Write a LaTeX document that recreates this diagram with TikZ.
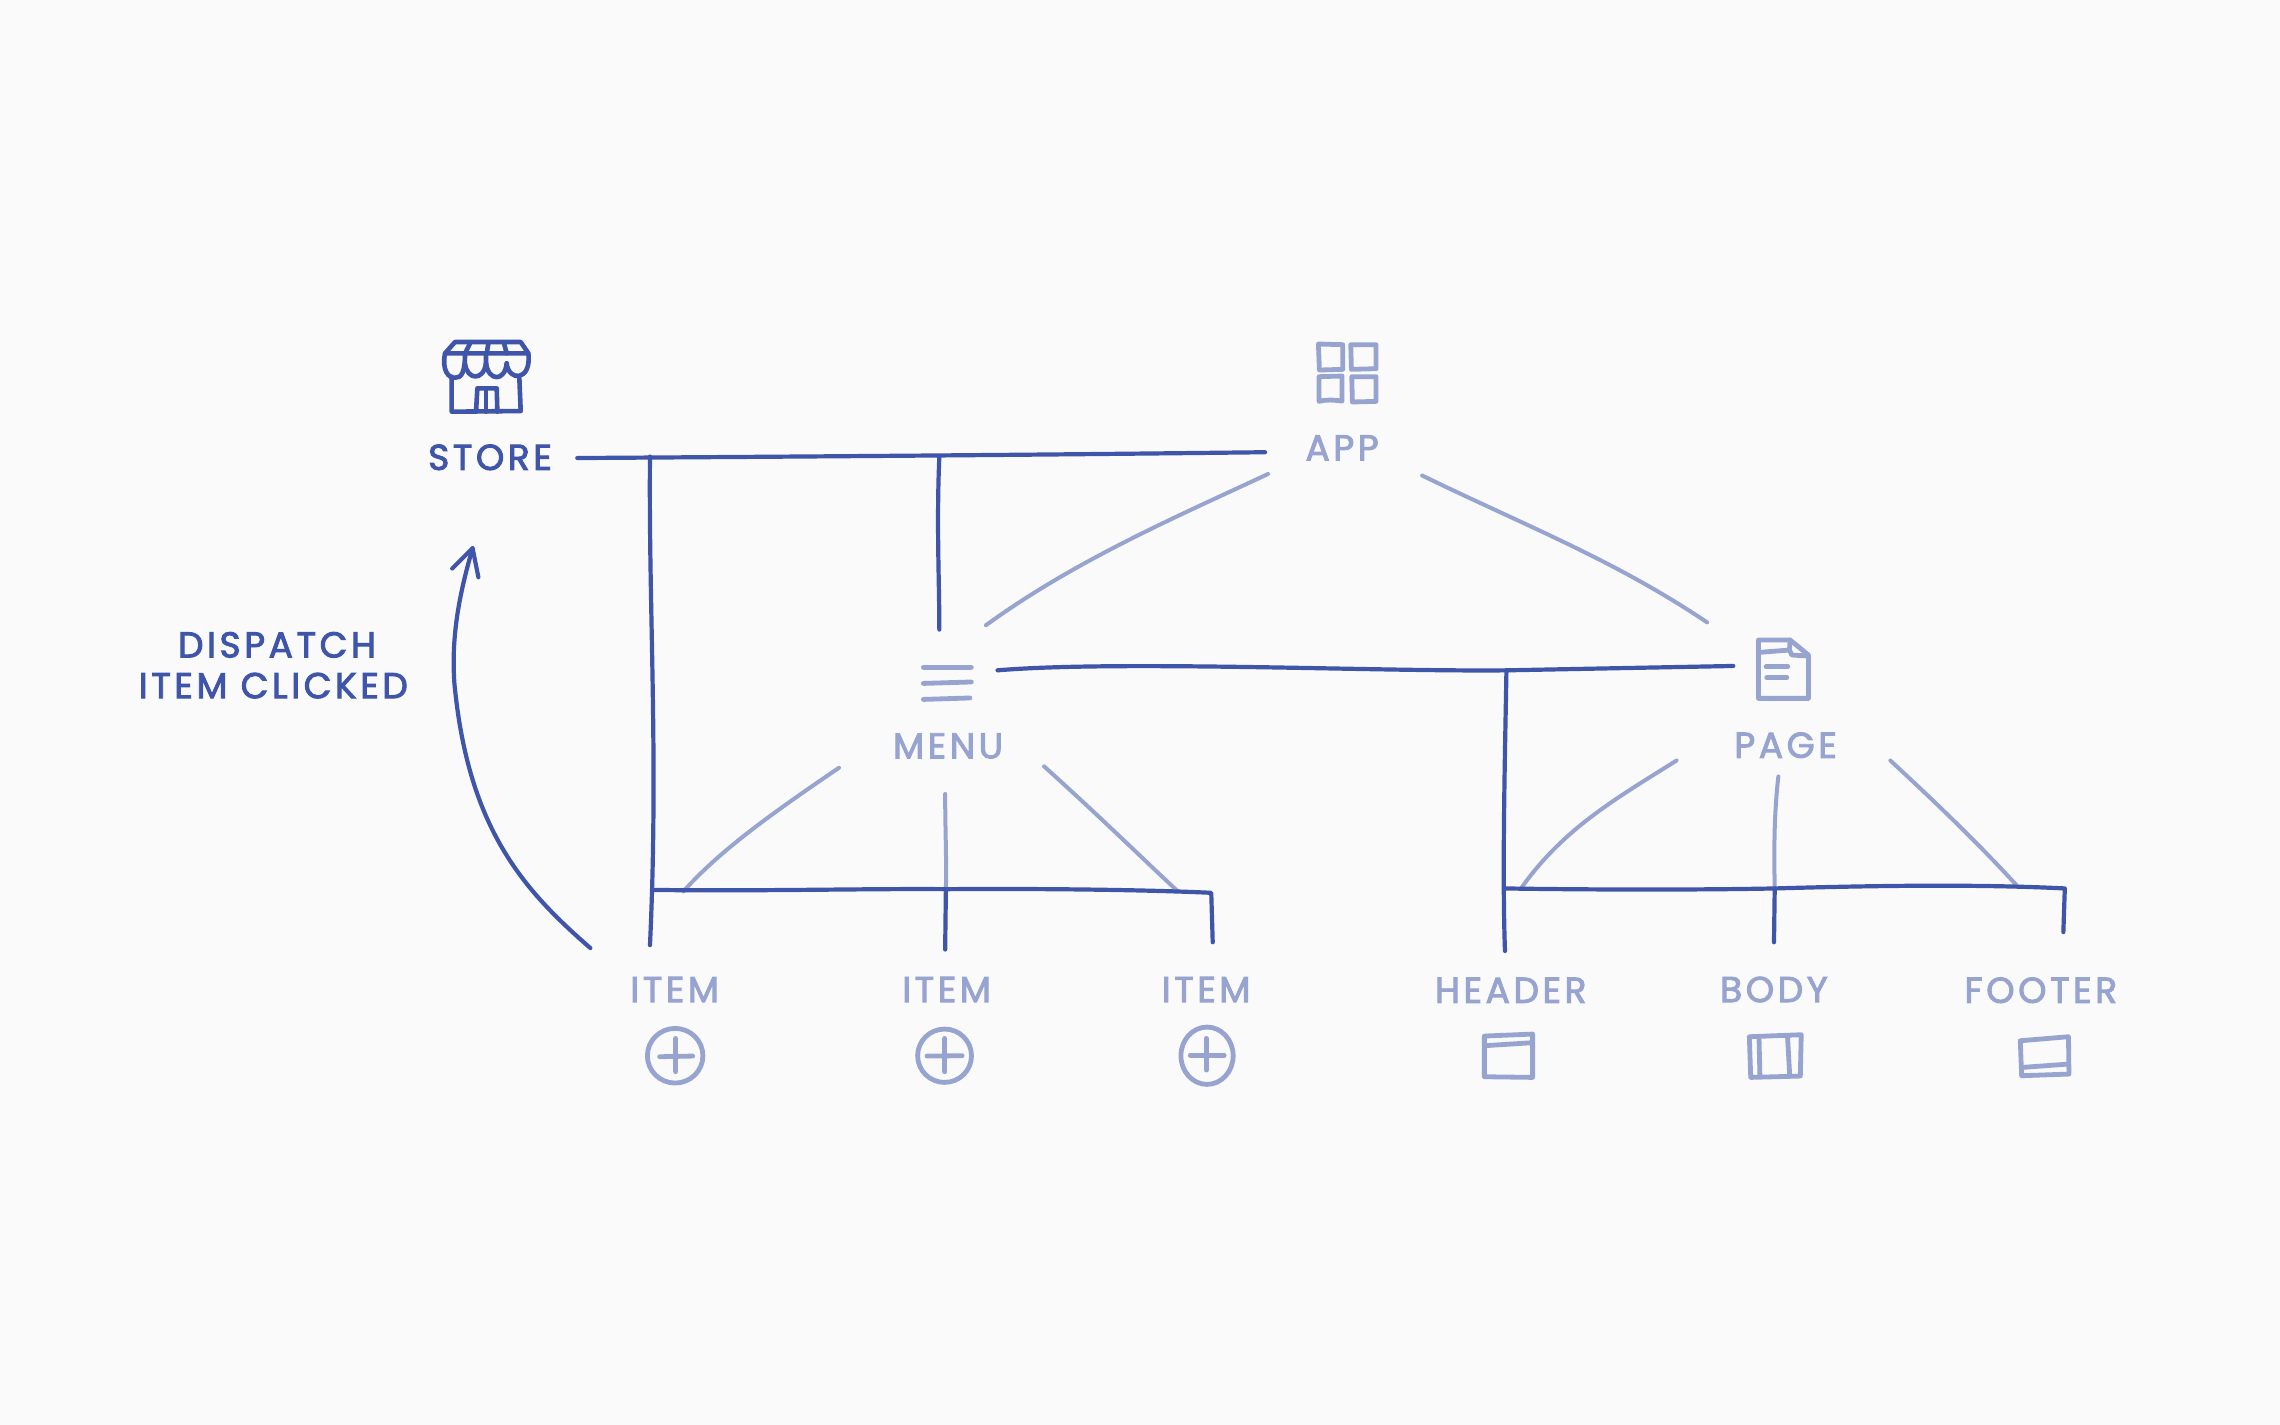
\documentclass[tikz,border=0pt]{standalone}
\usepackage{fontspec}
\setmainfont{Poppins}[FakeBold=2.6,LetterSpace=10]
\usetikzlibrary{arrows.meta}
\definecolor{bgc}{HTML}{FAFAFA}
\definecolor{dk}{HTML}{3F55A9}
\definecolor{lt}{HTML}{98A4D0}
\tikzset{
 darkline/.style={draw=dk,line width=2.1pt,line cap=round,line join=round},
 lightline/.style={draw=lt,line width=2pt,line cap=round,line join=round},
 icond/.style={draw=dk,line width=2.3pt,line cap=round,line join=round},
 iconl/.style={draw=lt,line width=2.4pt,line cap=round,line join=round},
 lab/.style={font=\fontsize{18}{20}\selectfont,text=lt,inner sep=0pt,anchor=center},
 labd/.style={lab,text=dk},
 zm/.style n args={3}{shift={(#1*0.68776,#2*0.68776)},x=#3,y=-.16667pt}
}
\begin{document}
\begin{tikzpicture}[x=.72704pt,y=-.72704pt]
\path[fill=bgc,use as bounding box] (0,0) rectangle (1568,980);
% labels
\node[labd] (store) at (337,314.5) {STORE};
\node[lab] (app) at (923,308) {APP};
\node[lab] (menu) at (652,513) {MENU};
\node[lab] (page) at (1228,512.5) {PAGE};
\node[lab] (item1) at (464,680.5) {ITEM};
\node[lab] (item2) at (651,680.5) {ITEM};
\node[lab] (item3) at (829.5,680.5) {ITEM};
\node[lab] (header) at (1039,681) {HEADER};
\node[lab] (body) at (1220,680.5) {BODY};
\node[lab] (footer) at (1403.5,681) {FOOTER};
\node[labd] (disp1) at (190.5,443.5) {DISPATCH};
\node[labd] (disp2) at (188,471.5) {ITEM CLICKED};
% junctions and free ends
\coordinate (sL) at (397,315);
\coordinate (sR) at (870,311);
\coordinate (sA) at (447,314);
\coordinate (sB) at (646,314);
\coordinate (iA) at (447,650);
\coordinate (mT) at (646,433);
\coordinate (aL) at (872,326);
\coordinate (mR) at (678,430);
\coordinate (aR) at (978,327);
\coordinate (pT) at (1174,428);
\coordinate (mpL) at (686,461);
\coordinate (mpR) at (1192,458);
\coordinate (mpJ) at (1036,461);
\coordinate (hT) at (1035,654);
\coordinate (m1) at (577,528);
\coordinate (m2) at (650,546);
\coordinate (m3) at (718,527);
\coordinate (b1L) at (449,612);
\coordinate (b1a) at (470,613);
\coordinate (b1b) at (650.5,611.5);
\coordinate (b1c) at (810,613);
\coordinate (b1R) at (833,614);
\coordinate (i2) at (650,653);
\coordinate (i3) at (834,648);
\coordinate (p1) at (1153,523);
\coordinate (p2) at (1223,534);
\coordinate (p3) at (1300,523);
\coordinate (b2L) at (1035,611);
\coordinate (b2a) at (1046,611);
\coordinate (b2b) at (1220.5,611);
\coordinate (b2c) at (1387,609);
\coordinate (b2R) at (1420,611);
\coordinate (f1) at (1419,641);
\coordinate (f2) at (1220,648);
\coordinate (aS) at (406,652);
\coordinate (aM) at (312.5,470);
\coordinate (aE) at (325,377);
\coordinate (aH1) at (311,391);
\coordinate (aH2) at (329,397);
% light connectors
\draw[lightline] (aL) .. controls (810,355) and (740,385) .. (mR);
\draw[lightline] (aR) .. controls (1050,362) and (1110,385) .. (pT);
\draw[lightline] (m1) .. controls (530,560) and (495,585) .. (b1a);
\draw[lightline] (m2) .. controls (650,570) and (651,590) .. (b1b);
\draw[lightline] (m3) .. controls (760,565) and (780,585) .. (b1c);
\draw[lightline] (p1) .. controls (1110,550) and (1075,570) .. (b2a);
\draw[lightline] (p2) .. controls (1220,560) and (1220,585) .. (b2b);
\draw[lightline] (p3) .. controls (1340,560) and (1365,585) .. (b2c);
% dark connectors
\draw[darkline] (sL) .. controls (550,314) and (700,313) .. (sR);
\draw[darkline] (sA) .. controls (446,420) and (453,520) .. (iA);
\draw[darkline] (sB) .. controls (644,360) and (646,400) .. (mT);
\draw[darkline] (mpL) .. controls (770,454) and (950,462) .. (mpJ) -- (mpR);
\draw[darkline] (mpJ) .. controls (1035,520) and (1033,600) .. (hT);
\draw[darkline] (b1L) .. controls (520,613) and (600,611) .. (b1b) .. controls (720,611) and (790,612) .. (b1R) -- (i3);
\draw[darkline] (b1b) -- (i2);
\draw[darkline] (b2L) .. controls (1100,612) and (1170,612) .. (b2b) .. controls (1290,609) and (1360,608) .. (b2R) -- (f1);
\draw[darkline] (b2b) -- (f2);
\draw[darkline] (aS) .. controls (360,612) and (322,570) .. (aM) .. controls (310,435) and (317,405) .. (aE);
\draw[darkline] (aH1) -- (aE) -- (aH2);
% store icon
\begin{scope}[zm={400}{310}{.16667pt},icond]
\draw (135,130) -- (165,96) -- (362,96) -- (385,130) -- cycle;
\draw (135,130) .. controls (125,180) and (145,205) .. (165,203) .. controls (185,205) and (195,185) .. (195,130);
\draw (195,160) .. controls (200,210) and (250,215) .. (258,160);
\draw (258,160) .. controls (265,215) and (315,215) .. (320,160);
\draw (320,160) .. controls (325,215) and (395,215) .. (385,130);
\draw (195,130) -- (210,100) (260,130) -- (265,100) (320,130) -- (312,100) (258,130) -- (258,165);
\draw (155,200) -- (155,305) -- (362,303) -- (358,205);
\draw (228,305) -- (232,235) -- (290,235) -- (292,305);
\draw (258,240) -- (258,305);
\end{scope}
% app icon
\begin{scope}[zm={1280}{320}{.16667pt},iconl]
\draw (115,72) -- (188,74) -- (188,148) -- (118,150) -- cycle;
\draw (212,74) -- (288,74) -- (288,146) -- (214,148) -- cycle;
\draw (117,170) -- (186,168) -- (186,243) .. controls (160,240) and (140,238) .. (117,244) -- cycle;
\draw (215,170) -- (288,170) -- (288,244) -- (217,246) -- cycle;
\end{scope}
% page icon
\begin{scope}[zm={1720}{620}{.16667pt},iconl]
\draw (115,60) -- (210,60) -- (265,105) -- (265,235) -- (115,235) -- cycle;
\draw (118,97) -- (208,90) -- (215,105) -- (265,108);
\draw (210,60) -- (208,90);
\draw (138,140) -- (203,140) (140,173) -- (200,173);
\end{scope}
% menu icon
\draw[iconl] (635,459) -- (668,459) (635,470) -- (668,469) (635,481) -- (667,480);
% item icons
\begin{scope}[zm={620}{950}{.2041pt},iconl]
\draw (135,317) ellipse [x radius=68,y radius=82];
\draw (97,320) -- (178,318) (136,265) -- (136,365);
\draw (795,317) ellipse [x radius=66,y radius=80];
\draw (752,318) -- (838,317) (795,265) -- (795,365);
\draw (1438,317) ellipse [x radius=64,y radius=86];
\draw (1397,316) -- (1480,316) (1436,265) -- (1436,360);
\end{scope}
% header, body, footer icons
\begin{scope}[zm={1420}{950}{.2296pt},iconl]
\draw (140,258) -- (245,252) -- (245,382) -- (140,380) -- cycle;
\draw (140,287) -- (243,278);
\draw (717,260) -- (830,254) -- (828,378) -- (720,382) -- cycle;
\draw (738,260) -- (740,378) (800,256) -- (805,378);
\draw (1307,272) -- (1412,260) -- (1413,372) -- (1310,377) -- cycle;
\draw (1312,352) -- (1412,342);
\end{scope}
\end{tikzpicture}
\end{document}
